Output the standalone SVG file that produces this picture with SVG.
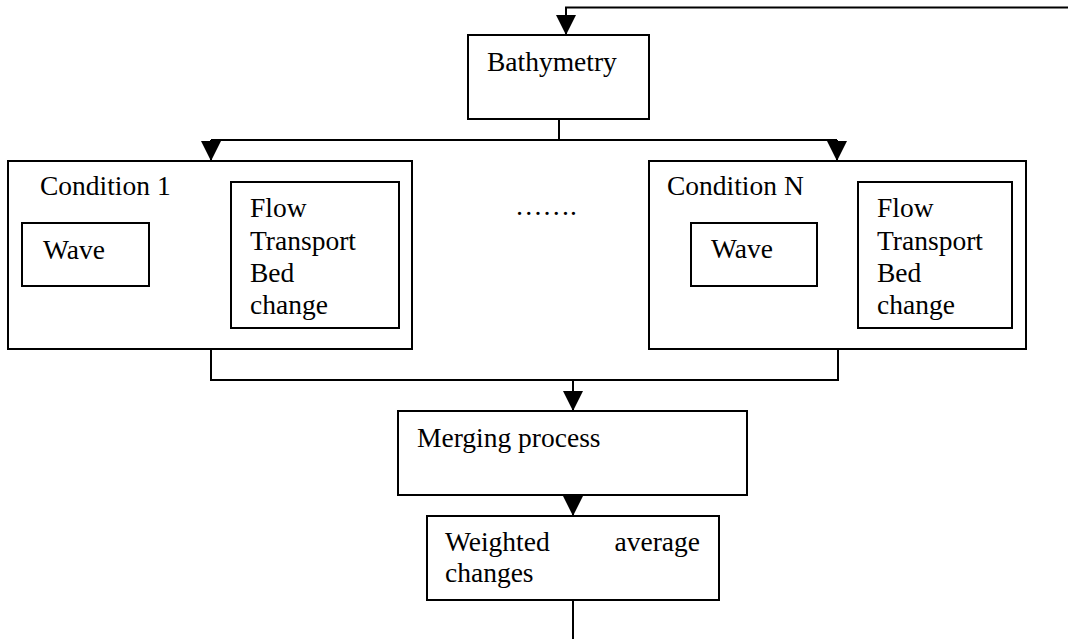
<svg xmlns="http://www.w3.org/2000/svg" width="1068" height="639" viewBox="0 0 1068 639">
  <style>
    .box { fill: #ffffff; stroke: #000000; stroke-width: 2; }
    .line { fill: none; stroke: #000000; stroke-width: 2; }
    .head { fill: #000000; stroke: none; }
    text { font-family: "Liberation Serif", "Times New Roman", serif; font-size: 27.5px; fill: #000000; }
  </style>
  <defs>
    <!-- solid triangular arrowhead, 20 long and 20 wide, tip at the path end -->
    <marker id="arrow" markerUnits="userSpaceOnUse" markerWidth="20" markerHeight="20" refX="20" refY="10" orient="auto-start-reverse">
      <path class="head" d="M0,0 L20,10 L0,20 Z"/>
    </marker>
  </defs>

  <rect width="1068" height="639" fill="#ffffff"/>

  <!-- connectors -->
  <g id="connectors">
    <!-- feedback line entering from the right edge -->
    <path class="line" d="M1068,7.5 H566 V35" marker-end="url(#arrow)"/>
    <!-- bathymetry splits to the conditions -->
    <path class="line" d="M559,119 V140"/>
    <path class="line" d="M211,140 H837"/>
    <path class="line" d="M211,140 V161" marker-end="url(#arrow)"/>
    <path class="line" d="M837,140 V161" marker-end="url(#arrow)"/>
    <!-- wave / flow coupling, condition 1 -->
    <path class="line" d="M149,255 H231" marker-start="url(#arrow)" marker-end="url(#arrow)"/>
    <!-- wave / flow coupling, condition N -->
    <path class="line" d="M817,255 H858" marker-start="url(#arrow)" marker-end="url(#arrow)"/>
    <!-- conditions join into the merging process -->
    <path class="line" d="M211,349 V380 H838 V349"/>
    <path class="line" d="M573,380 V411" marker-end="url(#arrow)"/>
    <!-- merging to weighted average -->
    <path class="line" d="M573,495 V516" marker-end="url(#arrow)"/>
    <!-- output leaving the bottom -->
    <path class="line" d="M573,600 V639"/>
  </g>

  <g id="bathymetry">
    <rect class="box" x="468" y="35" width="181" height="84"/>
    <text x="487" y="71">Bathymetry</text>
  </g>

  <g id="condition-1">
    <rect class="box" x="8" y="161" width="404" height="188"/>
    <text x="40" y="195">Condition 1</text>
  </g>
  <g id="wave-1">
    <rect class="box" x="22" y="223" width="127" height="63"/>
    <text x="43" y="259">Wave</text>
  </g>
  <g id="flow-1">
    <rect class="box" x="231" y="182" width="168" height="146"/>
    <text x="250" y="217">Flow</text>
    <text x="250" y="249.5">Transport</text>
    <text x="250" y="282">Bed</text>
    <text x="250" y="314">change</text>
  </g>

  <g id="ellipsis">
    <text x="515" y="215">…….</text>
  </g>

  <g id="condition-n">
    <rect class="box" x="649" y="161" width="377" height="188"/>
    <text x="667" y="195">Condition N</text>
  </g>
  <g id="wave-n">
    <rect class="box" x="691" y="223" width="126" height="63"/>
    <text x="711" y="258">Wave</text>
  </g>
  <g id="flow-n">
    <rect class="box" x="858" y="182" width="154" height="146"/>
    <text x="877" y="217">Flow</text>
    <text x="877" y="249.5">Transport</text>
    <text x="877" y="282">Bed</text>
    <text x="877" y="314">change</text>
  </g>

  <g id="merging">
    <rect class="box" x="398" y="411" width="349" height="84"/>
    <text x="417" y="447">Merging process</text>
  </g>

  <g id="weighted">
    <rect class="box" x="427" y="516" width="292" height="84"/>
    <text x="445" y="551">Weighted</text>
    <text x="700" y="551" text-anchor="end">average</text>
    <text x="445" y="582">changes</text>
  </g>
</svg>
